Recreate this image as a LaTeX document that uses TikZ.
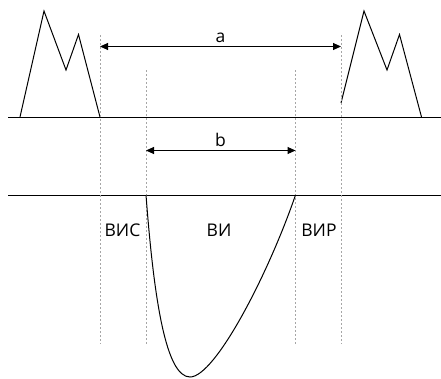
\documentclass[tikz,border=0pt]{standalone}
\usepackage{fontspec}
\setmainfont{Open Sans}
\usetikzlibrary{arrows.meta}
\begin{document}
\begin{tikzpicture}[x=1pt,y=-1pt,
  solid line/.style={line width=1pt,black},
  guide/.style={line width=0.8pt,draw=black!35,dash pattern=on 2pt off 2pt},
  dim/.style={line width=1pt,{Triangle[length=8pt,width=7pt]}-{Triangle[length=8pt,width=7pt]}},
  lbl/.style={inner sep=0pt,font=\fontsize{17.5}{17.5}\selectfont}]
\useasboundingbox (0,0) rectangle (441,378);
% base lines
\draw[solid line] (8,117) -- (441,117);
\draw[solid line] (8,195) -- (441,195);
% peaks
\draw[solid line,line join=miter] (20,117) -- (44,11) -- (66,70) -- (78.5,34.5) -- (100,117);
\draw[solid line,line join=miter] (341,103) -- (364,11) -- (387,70) -- (399.5,34.5) -- (421.5,117);
% guides
\coordinate (g1t) at (100,35);  \coordinate (g1b) at (100,344);
\coordinate (g2t) at (146,70);  \coordinate (g2b) at (146,344);
\coordinate (g3t) at (295.5,70);\coordinate (g3b) at (295.5,344);
\coordinate (g4t) at (341,35);  \coordinate (g4b) at (341,344);
\draw[guide] (g1t) -- (g1b);
\draw[guide] (g2t) -- (g2b);
\draw[guide] (g3t) -- (g3b);
\draw[guide] (g4t) -- (g4b);
% dimension arrows
\coordinate (aL) at (100,46.5); \coordinate (aR) at (341,46.5);
\coordinate (bL) at (146,150.5); \coordinate (bR) at (295.5,150.5);
\draw[dim] (aL) -- (aR);
\draw[dim] (bL) -- (bR);
\node[lbl,anchor=base] (la) at (220.5,42.5) {a};
\node[lbl,anchor=base] (lb) at (220.5,146) {b};
% curve
\draw[solid line] (146,195) .. controls (154,300) and (166,377) .. (190,377)
  .. controls (215,377) and (268,275) .. (295.5,195);
% zone labels
\node[lbl,anchor=base] (vis) at (122.5,236) {ВИС};
\node[lbl,anchor=base] (vi) at (219,236) {ВИ};
\node[lbl,anchor=base] (vir) at (319,236) {ВИР};
\end{tikzpicture}
\end{document}
